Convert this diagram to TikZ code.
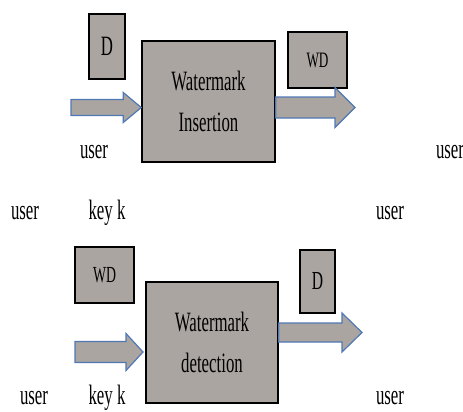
\documentclass[tikz,border=0pt]{standalone}
\usepackage{fontspec}
\newfontfamily\narrowserif{Liberation Serif}[FakeStretch=0.6]
\usetikzlibrary{calc}
\definecolor{boxgray}{RGB}{170,165,160}
\definecolor{arrowblue}{RGB}{80,120,180}
% block arrow: tail, tip, half shaft, half head, head length
\newcommand{\fatarrow}[5]{%
	\draw[fatarr] let \p1=(#1), \p2=(#2) in
		(\x1,\y1+#3) -- (\x2-#5,\y1+#3) -- (\x2-#5,\y1+#4) -- (\x2,\y1)
		-- (\x2-#5,\y1-#4) -- (\x2-#5,\y1-#3) -- (\x1,\y1-#3) -- cycle;}

\begin{document}
\begin{tikzpicture}[x=1pt,y=-1pt,
		blockbox/.style={draw=black, line width=1.5pt, fill=boxgray, inner sep=0pt, align=center,
			font=\narrowserif\fontsize{28}{41}\selectfont},
		databox/.style={draw=black, line width=1.5pt, fill=boxgray, inner sep=0pt},
		lbl/.style={anchor=base, inner sep=0pt, font=\narrowserif\fontsize{28}{34}\selectfont},
		fatarr/.style={draw=arrowblue, line width=1.2pt, fill=boxgray}]
		\useasboundingbox (0,0) rectangle (463,412);

		% insertion
		\node[blockbox, minimum width=133pt, minimum height=121pt] (ins) at (208.5,101.5) {Watermark\\Insertion};
		\node[databox, minimum width=36pt, minimum height=65pt, font=\narrowserif\fontsize{28}{34}\selectfont] (dIn) at (107,46.5) {D};
		\node[databox, minimum width=59pt, minimum height=56pt, font=\narrowserif\fontsize{22}{26}\selectfont] (wdOut) at (317.5,60) {WD};
		\coordinate (inA) at (71,107.5);
		\coordinate (outA) at (355,107.5);
		\fatarrow{inA}{ins.west |- inA}{8pt}{15pt}{18pt}
		\fatarrow{ins.east |- outA}{outA}{10.5pt}{20pt}{20pt}
		\node[lbl] (u1) at (94,158) {user};
		\node[lbl] (u2) at (450,158) {user};

		\node[lbl] (u3) at (25,219) {user};
		\node[lbl] (k1) at (107,219) {key k};
		\node[lbl] (u4) at (390,219) {user};

		% detection
		\node[blockbox, minimum width=132pt, minimum height=121pt] (det) at (212,342.5) {Watermark\\detection};
		\node[databox, minimum width=59pt, minimum height=56pt, font=\narrowserif\fontsize{23}{27}\selectfont] (wdIn) at (104.5,275) {WD};
		\node[databox, minimum width=35pt, minimum height=63pt, font=\narrowserif\fontsize{26}{32}\selectfont] (dOut) at (317.5,281.5) {D};
		\coordinate (inB) at (75,352);
		\coordinate (outB) at (362,332.5);
		\coordinate (tipB) at (143,352);
		\fatarrow{inB}{tipB}{10.5pt}{18.5pt}{17pt}
		\fatarrow{det.east |- outB}{outB}{9.5pt}{19.5pt}{20pt}
		\node[lbl] (u5) at (34,404) {user};
		\node[lbl] (k2) at (107,404) {key k};
		\node[lbl] (u6) at (390,404) {user};
	\end{tikzpicture}
\end{document}
